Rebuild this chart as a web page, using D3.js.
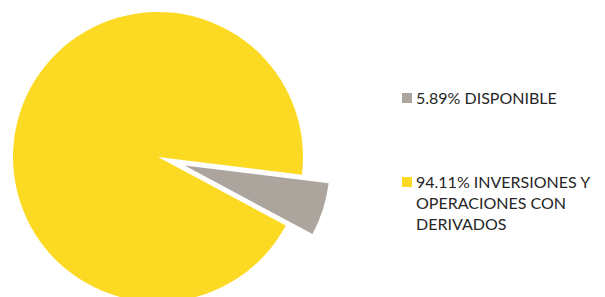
<!DOCTYPE html>
<html><head><meta charset="utf-8">
<script src="https://cdn.jsdelivr.net/npm/d3@7"></script>
<style>body{margin:0;background:#fff}svg{display:block}</style>
</head><body>
<svg id="c" width="605" height="297"></svg>
<script>
const categories = ["DISPONIBLE", "INVERSIONES Y OPERACIONES CON DERIVADOS"];
const values = [5.89, 94.11];
const legendLines = [["5.89% DISPONIBLE"], ["94.11% INVERSIONES Y", "OPERACIONES CON", "DERIVADOS"]];
const colors = ["#ABA59E", "#FCDA24"];

const svg = d3.select("#c");
const cx = 158, cy = 157, r = 145, explode = 28;
const start = 97 * Math.PI / 180;
const pie = d3.pie().sort(null).value(d => d).startAngle(start).endAngle(start + 2 * Math.PI);
const arc = d3.arc().innerRadius(0).outerRadius(r);
const arcs = pie(values);
const g = svg.append("g").attr("transform", `translate(${cx},${cy})`);
g.selectAll("path").data(arcs).join("path")
  .attr("d", arc)
  .attr("fill", (d, i) => colors[i])
  .attr("transform", (d, i) => {
    if (i !== 0) return null;
    const m = (d.startAngle + d.endAngle) / 2;
    return `translate(${Math.sin(m) * explode},${-Math.cos(m) * explode})`;
  });

const legY = [93, 177];
const lg = svg.append("g");
categories.forEach((c, i) => {
  lg.append("rect").attr("x", 402).attr("y", legY[i]).attr("width", 10).attr("height", 10).attr("fill", colors[i]);
  const t = lg.append("text").attr("x", 416).attr("y", legY[i] + 11)
    .attr("font-family", "Lato, 'Open Sans', sans-serif").attr("font-size", 16).attr("fill", "#262626");
  legendLines[i].forEach((l, j) => {
    t.append("tspan").attr("x", 416).attr("dy", j === 0 ? 0 : 21).text(l);
  });
});
</script>
</body></html>
